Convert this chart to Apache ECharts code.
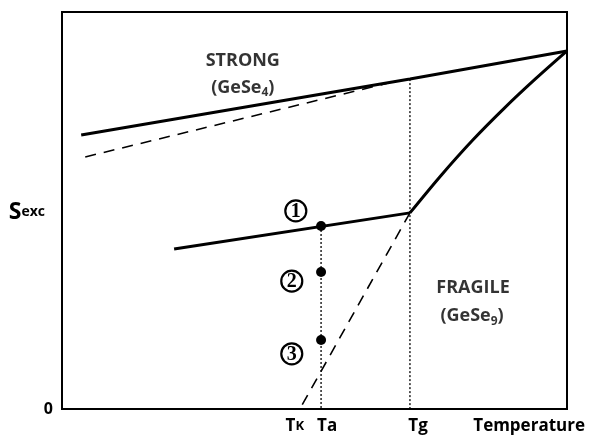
<!DOCTYPE html>
<html>
<head>
<meta charset="utf-8">
<script src="https://cdn.jsdelivr.net/npm/echarts@6/dist/echarts.min.js"></script>
<style>html,body{margin:0;padding:0;background:#fff}#c{width:590px;height:435px}</style>
</head>
<body>
<div id="c"></div>
<script>
// ---- data (x: temperature, arbitrary 0-100; y: excess entropy, arbitrary 0-100) ----
var strongSolid   = [[3.8, 69.0], [68.9, 83.1], [100, 90.2]];
var strongDashed  = [[4.6, 63.5], [64.6, 82.1]];
var fragileGlass  = [[22.2, 40.3], [68.9, 49.4]];
var fragileLiquid = [[68.9, 49.4], [75.1, 58.9], [81.3, 67.7], [87.6, 75.8], [93.8, 83.2], [100, 90.2]];
var fragileDashed = [[68.9, 49.4], [47.1, 0]];
var taLine        = [[51.3, 46.1], [51.3, 0]];
var tgLine        = [[68.9, 83.1], [68.9, 0]];
var agingPoints   = [[51.3, 46.1], [51.3, 34.5], [51.3, 17.4]];
var stepLabels    = ['1', '2', '3'];
var stepPos       = [[46.3, 49.9], [45.5, 32.2], [45.5, 13.9]];
var annoText      = ['STRONG', '(GeSe{sub|4})', 'FRAGILE', '(GeSe{sub|9})'];
var annoPos       = [[35.8, 87.7], [35.8, 80.9], [81.4, 30.5], [81.2, 23.4]];
var xTickPos      = [46.1, 52.5, 70.5, 92.5];
var xTickText     = ['T{k|K}', 'Ta', 'Tg', 'Temperature'];
var yTickPos      = [0, 49.6];
var yTickText     = ['0', '{s|S}{e|exc}'];

var FONT = '"Open Sans", sans-serif';
var W = 'bold';
var chart = echarts.init(document.getElementById('c'));

function line(data, width, type, smooth) {
  return {
    type: 'line', data: data, symbol: 'none', smooth: smooth || false,
    silent: true, animation: false, z: 2,
    lineStyle: { color: '#000', width: width, type: type || 'solid', cap: 'butt' }
  };
}

chart.setOption({
  animation: false,
  backgroundColor: '#fff',
  grid: { left: 62, right: 23, top: 12, bottom: 26, show: true, borderColor: '#000', borderWidth: 2, backgroundColor: 'transparent' },
  xAxis: {
    type: 'value', min: 0, max: 100,
    axisLine: { show: true, lineStyle: { color: '#000', width: 2 } },
    axisTick: { show: false },
    splitLine: { show: false },
    axisLabel: {
      customValues: xTickPos,
      margin: 9,
      color: '#000', fontFamily: FONT, fontWeight: W, fontSize: 17,
      formatter: function (v) { var i = xTickPos.indexOf(v); return i >= 0 ? xTickText[i] : ''; },
      rich: { k: { fontFamily: FONT, fontWeight: W, fontSize: 13, color: '#000' } }
    }
  },
  yAxis: {
    type: 'value', min: 0, max: 100,
    axisLine: { show: true, lineStyle: { color: '#000', width: 2 } },
    axisTick: { show: false },
    splitLine: { show: false },
    axisLabel: {
      customValues: yTickPos,
      margin: 9,
      color: '#000', fontFamily: FONT, fontWeight: W, fontSize: 16,
      formatter: function (v) { var i = yTickPos.indexOf(v); return i >= 0 ? yTickText[i] : ''; },
      rich: {
        s: { fontFamily: FONT, fontWeight: W, fontSize: 23, color: '#000' },
        e: { fontFamily: FONT, fontWeight: W, fontSize: 14, color: '#000', padding: [0, 8, 0, 0] }
      }
    }
  },
  series: [
    line(strongSolid, 3),
    line(strongDashed, 1.6, [11, 8]),
    line(fragileGlass, 3),
    line(fragileLiquid, 3, 'solid', 0.3),
    line(fragileDashed, 1.6, [11, 8]),
    line(taLine, 1.3, [2, 2]),
    line(tgLine, 1.3, [2, 2]),
    {
      type: 'scatter', data: agingPoints, symbol: 'circle', symbolSize: 10,
      itemStyle: { color: '#000', opacity: 1 }, silent: true, z: 5
    },
    {
      type: 'scatter', silent: true, z: 5,
      data: stepPos.map(function (p, i) { return { value: p, name: stepLabels[i] }; }),
      symbol: 'circle', symbolSize: 21,
      itemStyle: { color: '#fff', borderColor: '#000', borderWidth: 2.2, opacity: 1 },
      label: {
        show: true, position: 'inside', formatter: '{b}', color: '#000',
        fontFamily: '"Liberation Serif", serif', fontWeight: 'bold', fontSize: 20, offset: [0, 1]
      }
    },
    {
      type: 'scatter', silent: true, z: 6,
      data: annoPos.map(function (p, i) { return { value: p, name: annoText[i] }; }),
      symbolSize: 0,
      label: {
        show: true, position: 'inside', formatter: '{b}', color: '#000',
        fontFamily: FONT, fontWeight: W, fontSize: 18, lineHeight: 22,
        rich: { sub: { fontFamily: FONT, fontWeight: W, fontSize: 12, lineHeight: 10, verticalAlign: 'bottom', color: '#000' } }
      }
    }
  ]
});
</script>
</body>
</html>
